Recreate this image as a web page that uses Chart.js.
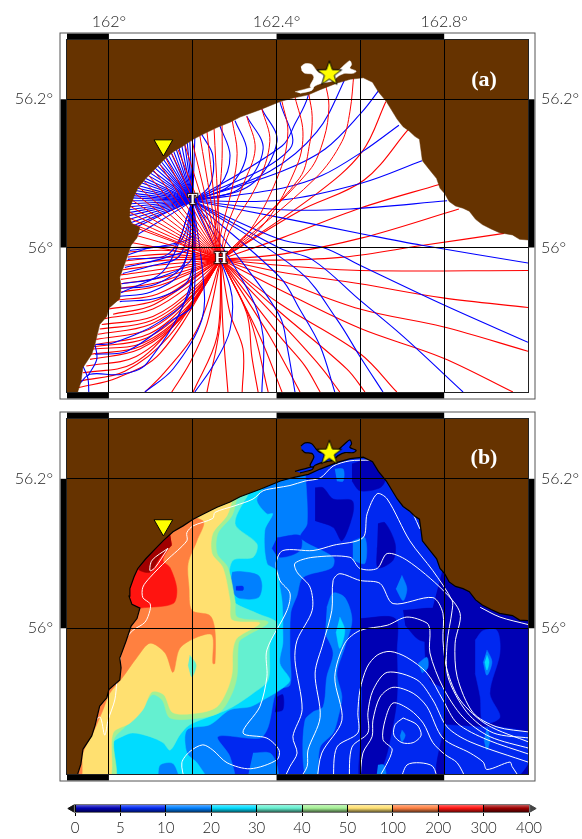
<!DOCTYPE html>
<html><head><meta charset="utf-8">
<style>html,body{margin:0;background:#fff;width:582px;height:839px;overflow:hidden}canvas{position:absolute;left:0}</style>
<script src="https://cdn.jsdelivr.net/npm/chart.js@4"></script>
</head><body>
<canvas id="pa" width="582" height="406" style="top:0"></canvas>
<canvas id="pb" width="582" height="384" style="top:405px"></canvas>
<canvas id="cb" width="582" height="49" style="top:790px"></canvas>
<script>
// All geographic lists: flat lon,lat pairs as millidegree offsets from 162E, 56N.
const lonTicks=[162,162.2,162.4,162.6,162.8];
const lonLabels=[162,162.4,162.8];
const latTicks=[56,56.2];
const cbLabels=['0','5','10','20','30','40','50','100','200','300','400'];
const cbColors=['#0000b4','#0028f0','#0080ff','#00dcff','#64f0d0','#a4f094','#ffe070','#ff8040','#ff1410','#a00000'];
const sourceH=[267,-16], sourceT=[200,63];
const starAt=[526,235], triangleAt=[130,138];
const coast=[-76,-200,-74,-194,-67,-182,-62,-162,-41,-144,-33,-130,-22,-104,-5,-93,0,-82,26,-69,29,-53,26,-40,41,-17,53,3,67,13,74,27,55,32,48,43,50,53,60,69,69,80,88,93,110,106,131,118,153,129,177,137,201,146,229,154,258,162,289,169,313,176,361,186,409,197,442,202,476,206,504,213,545,222,576,227,607,229,629,223,643,210,662,197,688,173,702,163,717,157,730,150,741,146,745,130,748,117,765,105,782,93,790,80,801,73,812,62,827,56,845,53,860,49,875,38,891,31,912,25,932,20,963,17,980,11,1030,9,1030,300,-120,300,-120,-220,-76,-220];
const lagoon=[458,244,468,248,484,247,494,240,504,235,544,238,563,247,575,252,579,247,575,242,590,238,583,235,563,235,547,231,535,225,520,223,504,221,492,218,485,215,480,218,489,229,484,234,468,235,460,239];
const lagoonIslet=[444,210,464,213,488,216,484,212,456,208];

const redRays=[
[492,71,604,129,661,197],[454,49,609,91,714,159],[413,13,599,53,788,85],[413,-9,604,13,835,52],[408,-17,559,-13,750,3,943,19],
[408,-24,599,-31,1000,-31],[408,-33,599,-49,797,-68,1000,-81],[408,-44,599,-83,797,-107,1000,-140],[408,-57,599,-109,797,-149,964,-195],
[408,-76,599,-143,687,-195],[408,-87,568,-164,611,-195],[408,-100,504,-160,551,-195],[408,-120,468,-160,504,-195],[384,-120,456,-195],[360,-120,413,-195],
[337,-97,380,-195],[329,-89,341,-147,356,-195],[289,-89,320,-137,318,-195],[272,-107,284,-195],[265,-104,234,-195],[258,-120,201,-195],[234,-103,193,-156,150,-195],[210,-111,129,-171,86,-195],
[122,-143,19,-176,-72,-189],[143,-120,38,-167,-68,-180],[162,-100,57,-157,-62,-169],[170,-96,65,-147,-54,-160],[177,-93,74,-137,-45,-151],[182,-88,78,-133,-42,-144],[186,-84,81,-129,-38,-137],[190,-78,90,-122,-36,-134],[193,-71,98,-116,-33,-131],[195,-67,98,-110,-30,-124],[201,-63,98,-104,-26,-117],[203,-58,100,-99,-22,-110],[205,-53,105,-93,-17,-104],[210,-44,105,-83,-10,-96],[212,-37,115,-71,0,-83],[108,-77,10,-90],
[115,-63,19,-71],[126,-46,29,-55],[122,-51,29,-60],[129,-40,29,-49],[129,-34,29,-43],[129,-29,29,-37],[133,-23,33,-30],[138,-17,38,-24],[138,-13,41,-18],[138,-9,45,-13],[142,-4,48,-6],[146,0,50,0],
[50,7],[67,16],[72,25],[55,32],[48,40],[48,48],[50,56],[55,64],[62,73],[72,81],[84,89],[95,97],[107,104],[122,112],[136,120],[150,127],[165,132],[181,139],[198,145],[217,151],[234,156],[251,160],
[253,13,265,80,270,120,270,165],[265,13,294,80,306,127,294,172],[277,20,320,84,349,133,329,177],[289,23,353,84,384,143,365,187],
[337,23,408,103,427,156,413,197],[372,33,449,111,463,156,444,203],[454,93,480,143,485,177,477,207],[477,103,513,147,525,191,516,223],[492,93,556,143,575,183,585,237]
];
const blueRays=[
[413,137,444,167,475,204,482,244],[384,103,496,156,563,227,575,249],[413,103,516,133,604,183,644,212],[413,80,508,97,604,129,692,165],[413,64,604,87,747,117],[413,51,575,52,807,63],[413,40,599,19,747,3,1000,-21],
[408,11,511,0,599,-24,797,-77,1000,-128],[408,-1,487,-17,599,-71,702,-120,845,-195],[456,-33,544,-97,599,-147,654,-195],[408,-40,456,-84,504,-133,539,-195],[313,-16,408,-93,425,-133,444,-195],
[337,-63,368,-120,365,-195],[289,-53,289,-111,248,-160,205,-195],[224,-36,222,-97,153,-164,86,-195],[193,-53,91,-156,31,-171,-45,-171,-69,-183],[200,-76,153,-97,43,-140,-33,-144],[193,-60,122,-100,10,-129,-31,-131],
[193,-40,122,-67,26,-73],[175,-30,100,-60,22,-66],[134,-29,29,-61],[180,-20,110,-50,25,-55],[200,-13,122,-40,31,-49],[170,-10,100,-25,33,-35],[200,4,138,-13,38,-27],[146,-7,45,-16],[170,8,100,0,45,-10],[200,17,146,4,50,-4],
[134,40,64,16],[122,43,53,24],[52,28],[50,33],[49,38],[48,43],[48,47],[48,51],[49,55],[50,59],[52,63],[55,67],[57,70],[60,73],[64,77],[69,80],[74,83],[79,87],[83,90],[88,93],[94,97],[100,100],[105,103],[110,107],[116,110],[122,112],[126,115],[131,118],[137,121],[143,124],[149,127],[155,129],[161,132],[167,135],[174,137],[181,139],[187,141],[193,144],[205,148],
[241,84,248,124,221,153],[265,84,289,124,265,164],[289,84,329,129,301,171],[313,80,368,133,329,177],[337,84,401,143,365,187],[432,133,408,197]
];
const blueCurls=[[-62,-160,-50,-177,-48,-195],[-33,-131,-29,-151,-50,-173]];

const seaBase=[-120,-220,1030,-220,1030,300,-120,300];
const below5=[
[492,188,511,188,535,173,580,171,582,153,556,117,535,135,492,144],
[580,220,630,227,659,200,647,188,599,184,580,197],
[642,140,659,141,683,113,678,91,642,81,640,108],
[802,91,826,71,862,51,933,24,1017,8,1017,-205,790,-205,802,-123,802,-83,766,-69,754,-16,771,24],
[599,13,683,13,687,-29,687,-96,671,-149,659,-176,635,-205,599,-205,601,-149,604,-96],
[702,24,790,24,790,-16,742,-16,707,4],
[401,-92,415,-89,415,-109,396,-112]];
const from5East=[
[874,-16,893,-3,926,-3,933,-33,909,-87,933,-119,893,-127,886,-92,874,-60],
[802,-129,886,-132,933,-132,1005,-143,1005,-176,957,-205,802,-205]];
const from10=[
[468,217,473,140,456,121,535,95,532,81,463,68,449,44,434,21,432,-33,432,-76,401,-83,380,-132,360,-147,260,-145,289,-172,294,-205,-117,-205,-117,37,98,211],
[344,-167,384,-167,401,-183,401,-205,329,-205],
[520,28,535,47,563,41,580,11,563,-25,544,-60,556,-92,547,-119,535,-140,504,-159,496,-205,473,-205,463,-172,468,-123,487,-112,511,-105,520,-65,535,-33,516,-7],
[699,71,711,53,702,37,685,53],[902,-29,914,-45,902,-63,893,-45],[738,-47,759,-39,761,-53,747,-60],[539,213,559,213,559,197,544,197],
[699,-136,707,-143,699,-152,695,-143],[902,-132,909,-149,902,-163,895,-149],[642,-183,656,-183,661,-205,637,-205],[582,117,611,121,611,87,582,91]];
const from5West=[[401,121,456,124,456,104,408,95,389,107]];
const from20=[
[384,197,368,187,353,171,377,153,391,153,372,131,377,87,401,77,408,55,413,37,415,15,415,-3,415,-20,408,-47,432,-69,415,-80,368,-96,337,-105,289,-109,241,-129,186,-136,186,-167,210,-180,234,-205,177,-205,153,-181,122,-183,110,-205,-117,-205,-117,37,98,197],
[551,15,563,-3,551,-27,542,-5],[902,-36,907,-45,902,-56,897,-45]];
const from30=[[337,184,301,140,353,113,344,95,296,91,286,64,294,37,353,20,401,7,384,-20,380,-69,344,-87,296,-105,265,-113,193,-129,169,-143,146,-163,129,-153,98,-145,57,-140,31,-145,10,-153,2,-205,-117,-205,-117,37,98,184]];
const from40=[[306,175,294,151,260,127,258,100,284,81,301,37,306,15,380,8,313,-16,308,-29,306,-63,294,-87,265,-112,217,-120,146,-120,127,-96,103,-89,74,-112,38,-132,12,-149,12,-205,-117,-205,-117,37,98,177]];
const from50=[[294,171,282,151,248,127,246,100,272,81,289,37,294,11,360,7,306,-13,296,-29,294,-60,282,-83,258,-105,217,-113,153,-113,131,-89,103,-85,81,-109,50,-127,10,-140,-2,-205,-117,-205,-117,37,98,171]];
const aquaSpot=[193,-36,208,-49,198,-65,189,-49];
const from100=[[98,157,224,144,210,117,189,87,191,55,198,24,241,17,253,-3,253,-47,248,-47,246,-9,210,-12,169,-27,153,-59,134,-33,98,-20,67,-39,31,-67,2,-87,-14,-109,-38,-140,-62,-167,-69,-205,-117,-205,-117,37,-21,131]];
const from200=[[146,124,62,84,38,47,50,24,76,27,153,33,162,53,146,81,129,91,150,113]];
const from300=[[146,127,86,100,69,80,98,75,122,95,150,111]];
const spotLight=[294,75,313,76,356,71,365,57,356,41,313,40,296,48,291,64];
const spotBlue=[303,56,320,56,320,51,303,51];

const contours=[
[-62,-159,-38,-129,-21,-119,-10,-143,-2,-123,14,-96,19,-72,26,-47,33,-20,57,-3,86,8,98,24,98,33,81,41,81,55,98,68,138,91,186,117,186,128,201,137,248,147,253,155,301,164,344,173,368,184,401,188,432,191,468,197,504,201,535,217,575,224,623,225],
[141,107,103,91,98,77,110,81,141,107],
[181,-205,174,-180,193,-165,224,-156,248,-163,282,-180,337,-188,401,-176,406,-163,377,-147,320,-140,360,-105,377,-65,377,-29,425,24,432,47,408,64,399,87,415,104,487,104,535,111,606,121,616,153,640,180,664,173,718,117,773,77,819,37,819,24,807,-20,809,-65,855,-113,917,-140,1005,-147],
[415,-205,432,-185,449,-167,439,-145,461,-109,444,-43,449,-16,485,24,480,55,449,75,444,87,487,95,575,95,599,80,640,80,664,100,711,91,797,51,838,20,826,-20,831,-65,869,-113,926,-132,1005,-139],
[451,-205,473,-185,475,-163,504,-119,492,-60,511,-20,532,24,535,64,551,73,599,64,647,60,678,33,773,41,797,20,797,-16,807,-56,838,-96,902,-129,1005,-153],
[496,-205,508,-167,556,-123,539,-65,563,-20,599,-3,664,4,711,15,759,7,766,-3,766,-33,797,-79,845,-119,909,-145,1005,-161],
[535,-205,544,-159,594,-140,594,-113,599,-83,616,-52,640,-36,671,-31,711,-39,759,-60,797,-96,831,-127,902,-149,1005,-169],
[573,-205,580,-159,618,-140,618,-113,630,-83,664,-59,735,-69,773,-96,807,-132,862,-152,1005,-180],
[599,-205,606,-167,628,-145,630,-123,647,-92,678,-79,726,-87,759,-105,797,-147,862,-167,893,-179,902,-189,957,-179,962,-185,986,-205],
[640,-205,676,-163,654,-149,659,-123,678,-100,718,-109,750,-127,773,-153,802,-169,831,-180,855,-205],
[702,-120,735,-129,745,-143,726,-153,699,-153,680,-143,683,-129,702,-120],
[695,-205,711,-183,742,-180,773,-185,785,-205],
[886,28,933,15,1000,5],[726,153,742,133]];

const geo=a=>{const o=[];for(let i=0;i<a.length;i+=2)o.push({x:162+a[i]/1000,y:56+a[i+1]/1000});return o;};
const poly=(a,color,border,t)=>({data:geo(a),fill:'shape',backgroundColor:color,borderColor:border||color,borderWidth:border?1.2:0.5,pointRadius:0,tension:t||0});
const band=(a,color)=>poly(a,color,null,0.3);
const line=(a,color,w,t)=>({data:geo(a),fill:false,borderColor:color,borderWidth:w,pointRadius:0,tension:t});

function starImage(){const c=document.createElement('canvas');c.width=c.height=28;const g=c.getContext('2d');g.beginPath();
 for(let i=0;i<10;i++){const r=i%2?5.2:13,t=-Math.PI/2+i*Math.PI/5;g[i?'lineTo':'moveTo'](14+r*Math.cos(t),14.5+r*Math.sin(t));}
 g.closePath();g.fillStyle='#ffff00';g.fill();g.lineWidth=1;g.strokeStyle='#000';g.stroke();return c;}
const star=starImage();
const markers=[
 {data:geo(starAt),pointStyle:star,pointRadius:13,showLine:false,clip:false},
 {data:geo(triangleAt),pointStyle:'triangle',rotation:180,pointRadius:10.8,backgroundColor:'#ffff00',borderColor:'#000',borderWidth:1,showLine:false,clip:false}];

const frameLon=[161.9,162,162.4,162.8,163], frameLat=[55.805,56,56.2,56.28];
const framePlugin={id:'frame',afterDraw(c,_,o){
 const g=c.ctx,a=c.chartArea,X=c.scales.x,Y=c.scales.y,t=6.5;
 g.save();
 g.fillStyle='#fff';g.fillRect(a.left-t,a.top-t,a.width+2*t,t);g.fillRect(a.left-t,a.bottom,a.width+2*t,t);g.fillRect(a.left-t,a.top,t,a.height);g.fillRect(a.right,a.top,t,a.height);
 g.fillStyle='#000';
 for(let i=0;i<4;i+=2){const x0=X.getPixelForValue(frameLon[i]),x1=X.getPixelForValue(frameLon[i+1]);g.fillRect(x0,a.top-t,x1-x0,t);g.fillRect(x0,a.bottom,x1-x0,t);}
 const y0=Y.getPixelForValue(frameLat[2]),y1=Y.getPixelForValue(frameLat[1]);
 g.fillRect(a.left-t,y0,t,y1-y0);g.fillRect(a.right,y0,t,y1-y0);
 g.strokeStyle='#555';g.lineWidth=1;g.strokeRect(a.left-t-.5,a.top-t-.5,a.width+2*t+1,a.height+2*t+1);
 g.strokeStyle='#222';g.strokeRect(a.left-.5,a.top-.5,a.width+1,a.height+1);
 (o.labels||[]).forEach(l=>{const x=X.getPixelForValue(l.lon),y=Y.getPixelForValue(l.lat);
  g.font=l.font;g.textAlign='center';g.textBaseline='middle';
  if(l.halo){g.lineWidth=2.5;g.strokeStyle='rgba(40,20,20,.85)';g.strokeText(l.text,x,y);}
  g.fillStyle='#fff';g.fillText(l.text,x,y);});
 g.restore();}};
const noPad=s=>{s.paddingLeft=s.paddingRight=s.paddingTop=s.paddingBottom=0;};

function panel(id,datasets,areaTop,areaBottom,height,showTop,labels){
 const n=datasets.length;
 datasets.forEach((d,i)=>{d.order=n-i;});
 const font={family:'Lato',size:16,weight:'300'};
 return new Chart(document.getElementById(id),{type:'line',data:{datasets},plugins:[framePlugin],options:{
  responsive:false,animation:false,events:[],
  layout:{padding:{left:0,right:0,top:0,bottom:height-areaBottom}},
  plugins:{legend:{display:false},tooltip:{enabled:false},frame:{labels}},
  scales:{
   x:{type:'linear',position:'top',min:161.9,max:163,
    afterFit(s){s.height=areaTop;noPad(s);},
    afterBuildTicks(s){s.ticks=lonTicks.map(value=>({value}));},
    grid:{color:'#000',lineWidth:1,z:1,drawTicks:false},border:{display:false},
    ticks:{display:showTop,autoSkip:false,maxRotation:0,padding:9,color:'#222',font,callback:v=>lonLabels.includes(v)?v+'°':''}},
   y:{type:'linear',position:'left',min:55.805,max:56.28,
    afterFit(s){s.width=67;noPad(s);},
    afterBuildTicks(s){s.ticks=latTicks.map(value=>({value}));},
    grid:{color:'#000',lineWidth:1,z:1,drawTicks:false},border:{display:false},
    ticks:{padding:14,color:'#222',font,callback:v=>v+'°'}},
   y2:{type:'linear',position:'right',min:55.805,max:56.28,
    afterFit(s){s.width=54;noPad(s);},
    afterBuildTicks(s){s.ticks=latTicks.map(value=>({value}));},
    grid:{display:false,drawTicks:false,tickLength:0},border:{display:false},
    ticks:{padding:13,color:'#222',font,callback:v=>v+'°'}}
  }}});
}
const dsA=[
 ...redRays.slice(0,52).map(r=>line([...sourceH,...r],'#ff0000',1.1,0.35)),
 ...blueRays.map(r=>line([...sourceT,...r],'#0000ff',1.1,0.35)),
 ...blueCurls.map(r=>line(r,'#0000ff',1.1,0.35)),
 ...redRays.slice(52).map(r=>line([...sourceH,...r],'#ff0000',1,0.35)),
 poly(coast,'#663300'),poly(lagoon,'#ffffff',null,0.3),poly(lagoonIslet,'#ffffff',null,0.3),...markers];
panel('pa',dsA,40,397,406,true,[
 {text:'T',lon:162.2,lat:56.063,font:'bold 14px "Liberation Serif"',halo:true},
 {text:'H',lon:162.267,lat:55.984,font:'bold 16px "Liberation Serif"',halo:true},
 {text:'(a)',lon:162.895,lat:56.226,font:'bold 22px "Liberation Serif"'}]);

const c=cbColors;
const dsB=[
 poly(seaBase,c[1]),...below5.map(a=>band(a,c[0])),...from5East.map(a=>band(a,c[1])),
 ...from10.slice(0,1).map(a=>band(a,c[2])),...from5West.map(a=>band(a,c[1])),...from10.slice(1).map(a=>band(a,c[2])),
 band(from20[0],c[3]),band(spotLight,c[2]),band(spotBlue,c[1]),band(from20[1],c[3]),band(from20[2],c[3]),
 ...from30.map(a=>band(a,c[4])),...from40.map(a=>band(a,c[5])),...from50.map(a=>band(a,c[6])),band(aquaSpot,c[4]),
 ...from100.map(a=>band(a,c[7])),...from200.map(a=>band(a,c[8])),...from300.map(a=>band(a,c[9])),
 ...contours.map(a=>line(a,'#ffffff',1,0.3)),
 poly(coast,'#663300','#000'),poly(lagoon,c[1],'#000',0.3),poly(lagoonIslet,c[1],'#000',0.3),...markers.map(m=>({...m}))];
panel('pb',dsB,13,369,384,false,[{text:'(b)',lon:162.895,lat:56.228,font:'bold 22px "Liberation Serif"'}]);

const mix=(h,t,f)=>{const n=parseInt(h.slice(1),16),p=[n>>16,n>>8&255,n&255];return 'rgb('+p.map(v=>Math.round(v+(t-v)*f)).join(',')+')';};
new Chart(document.getElementById('cb'),{type:'bar',
 data:{datasets:[
  {type:'scatter',data:[{x:-0.07,y:.5}],pointStyle:'triangle',rotation:-90,pointRadius:4,backgroundColor:'#111',borderColor:'#111',clip:false,order:0},
  {type:'scatter',data:[{x:10.07,y:.5}],pointStyle:'triangle',rotation:90,pointRadius:4,backgroundColor:'#444',borderColor:'#444',clip:false,order:0},
  {data:cbColors.map((_,i)=>({x:i+.5,y:1})),barPercentage:1,categoryPercentage:1,order:1,
   backgroundColor(ctx){const a=ctx.chart.chartArea;if(!a)return '#000';const h=cbColors[ctx.dataIndex],g=ctx.chart.ctx.createLinearGradient(0,a.top,0,a.bottom);
    g.addColorStop(0,mix(h,255,.35));g.addColorStop(.45,h);g.addColorStop(1,mix(h,0,.6));return g;}}]},
 options:{responsive:false,animation:false,events:[],
  layout:{padding:{left:75,right:53,top:15,bottom:0}},
  plugins:{legend:{display:false},tooltip:{enabled:false}},
  scales:{x:{type:'linear',min:0,max:10,offset:false,afterFit(s){s.height=27;noPad(s);},
    afterBuildTicks(s){s.ticks=cbLabels.map((_,value)=>({value}));},
    grid:{color:'#000',lineWidth:1,z:1,tickLength:4,offset:false},border:{display:false},
    ticks:{autoSkip:false,maxRotation:0,padding:3,color:'#222',font:{family:'Lato',size:15,weight:'300'},callback:v=>cbLabels[v]}},
   y:{display:false,min:0,max:1,grid:{display:false},border:{display:false}}}},
 plugins:[{id:'cbTop',afterDraw(ch){const g=ch.ctx,a=ch.chartArea;g.save();g.strokeStyle='#777';g.lineWidth=1;g.strokeRect(a.left-.5,a.top-.5,a.width+1,a.height+1);g.restore();}}]});
</script></body></html>
